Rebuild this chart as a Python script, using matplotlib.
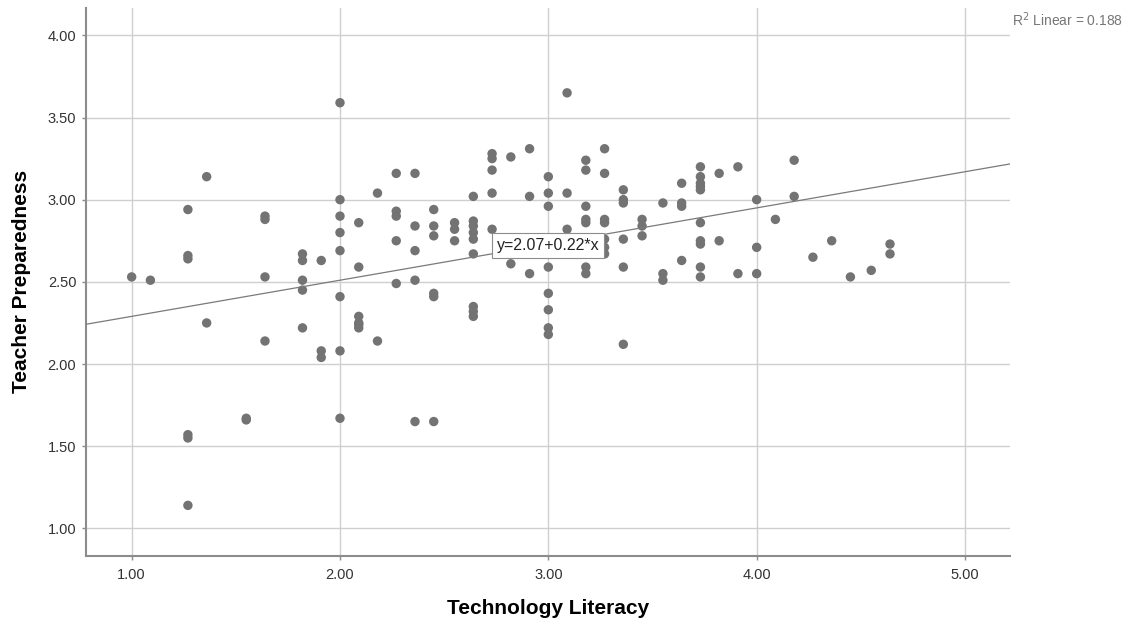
import matplotlib
matplotlib.use("Agg")
import matplotlib.pyplot as plt
import numpy as np

plt.rcParams['font.family'] = ['Liberation Sans', 'DejaVu Sans']

# technology literacy levels and teacher preparedness scores
tech_levels = [1.00, 1.09, 1.27, 1.36, 1.55, 1.64, 1.82, 1.91, 2.00, 2.09,
               2.18, 2.27, 2.36, 2.45, 2.55, 2.64, 2.73, 2.82, 2.91, 3.00,
               3.09, 3.18, 3.27, 3.36, 3.45, 3.55, 3.64, 3.73, 3.82, 3.91,
               4.00, 4.09, 4.18, 4.27, 4.36, 4.45, 4.55, 4.64]
prep_scores = [
    [2.53],
    [2.51],
    [2.94, 2.66, 2.64, 1.57, 1.55, 1.14],
    [3.14, 2.25],
    [1.67, 1.66],
    [2.90, 2.88, 2.53, 2.14],
    [2.67, 2.63, 2.51, 2.45, 2.22],
    [2.63, 2.08, 2.04],
    [3.59, 3.00, 2.90, 2.80, 2.69, 2.41, 2.08, 1.67],
    [2.86, 2.59, 2.29, 2.25, 2.24, 2.22],
    [3.04, 2.14],
    [3.16, 2.93, 2.90, 2.75, 2.49],
    [3.16, 2.84, 2.69, 2.51, 1.65],
    [2.94, 2.84, 2.78, 2.43, 2.41, 1.65],
    [2.86, 2.82, 2.75],
    [3.02, 2.87, 2.84, 2.80, 2.76, 2.67, 2.35, 2.32, 2.29],
    [3.28, 3.25, 3.18, 3.04, 2.82],
    [3.26, 2.61],
    [3.31, 3.02, 2.55],
    [3.14, 3.04, 2.96, 2.59, 2.43, 2.33, 2.22, 2.18],
    [3.65, 3.04, 2.82],
    [3.24, 3.18, 2.96, 2.88, 2.86, 2.59, 2.55],
    [3.31, 3.16, 2.88, 2.86, 2.76, 2.71, 2.67],
    [3.06, 3.00, 2.98, 2.76, 2.59, 2.12],
    [2.88, 2.84, 2.78],
    [2.98, 2.55, 2.51],
    [3.10, 2.98, 2.96, 2.63],
    [3.20, 3.14, 3.10, 3.08, 3.06, 2.86, 2.75, 2.73, 2.59, 2.53],
    [3.16, 2.75],
    [3.20, 2.55],
    [3.00, 2.71, 2.55],
    [2.88],
    [3.24, 3.02],
    [2.65],
    [2.75],
    [2.53],
    [2.57],
    [2.73, 2.67],
]

# fitted line shown on the chart
intercept = 2.07
slope = 0.22
r_squared = 0.188

xticks = [1.0, 2.0, 3.0, 4.0, 5.0]
yticks = [1.0, 1.5, 2.0, 2.5, 3.0, 3.5, 4.0]

x = []
y = []
for lvl, scores in zip(tech_levels, prep_scores):
    for s in scores:
        x.append(lvl)
        y.append(s)
x = np.array(x)
y = np.array(y)

fig = plt.figure(figsize=(11.29, 6.21), dpi=100)
ax = fig.add_axes([0.0762, 0.1047, 0.8184, 0.8826])

ax.set_xlim(0.781, 5.216)
ax.set_ylim(0.832, 4.167)

ax.set_xticks(xticks)
ax.set_yticks(yticks)
ax.set_xticklabels(['%.2f' % t for t in xticks])
ax.set_yticklabels(['%.2f' % t for t in yticks])
ax.grid(True, color='#cfcfcf', linewidth=1.0)
ax.set_axisbelow(True)

for side in ['top', 'right']:
    ax.spines[side].set_visible(False)
for side in ['left', 'bottom']:
    ax.spines[side].set_color('#8c8c8c')
    ax.spines[side].set_linewidth(1.5)
ax.tick_params(axis='both', colors='#8c8c8c', labelcolor='#333333',
               labelsize=10.5, length=3, width=1)
ax.tick_params(axis='x', pad=6)
ax.tick_params(axis='y', pad=4)

ax.scatter(x, y, s=46, color='#737373', edgecolors='none', zorder=3)

xl = np.array(ax.get_xlim())
ax.plot(xl, intercept + slope * xl, color='#7a7a7a', linewidth=0.9, zorder=4)

ax.text(3.0, 2.72, 'y=%.2f+%.2f*x' % (intercept, slope), fontsize=11.5,
        ha='center', va='center', color='#222222', zorder=5,
        bbox=dict(boxstyle='square,pad=0.3', facecolor='white',
                  edgecolor='#8c8c8c', linewidth=0.8))

fig.text(0.8965, 0.969, 'R$^2$ Linear = %.3f' % r_squared, fontsize=10,
         color='#777777', ha='left', va='center')

ax.set_xlabel('Technology Literacy', fontsize=15, fontweight='bold')
ax.set_ylabel('Teacher Preparedness', fontsize=15, fontweight='bold')
ax.xaxis.set_label_coords(0.5, -0.0967)
ax.xaxis.label.set_va('center')
ax.yaxis.set_label_coords(-0.0703, 0.5)
ax.yaxis.label.set_va('center')

plt.savefig('out.png', dpi=100)
